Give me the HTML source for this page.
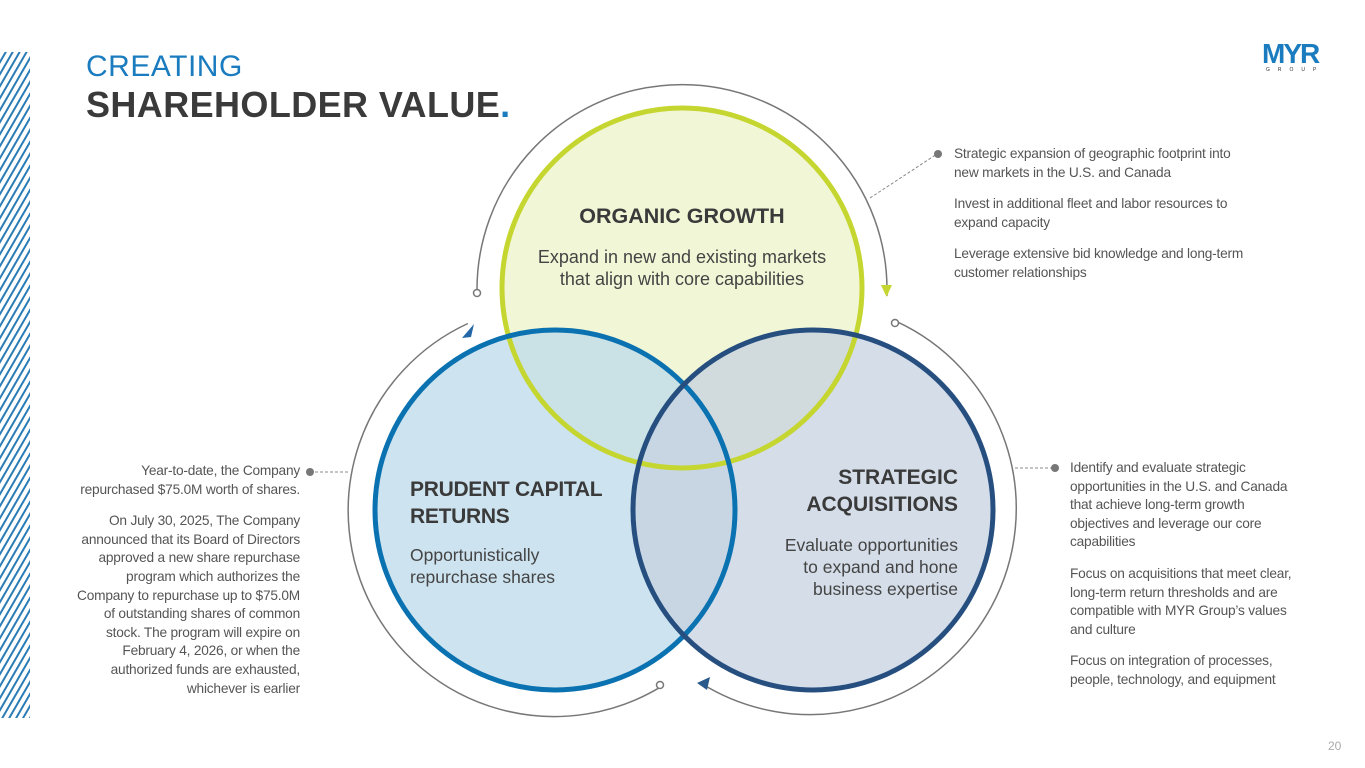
<!DOCTYPE html>
<html><head><meta charset="utf-8"><style>
body{margin:0;width:1365px;height:768px;background:#fff;overflow:hidden;position:relative;font-family:"Liberation Sans",sans-serif}
.t{position:absolute;font-size:13.7px;line-height:18.6px;color:#555;letter-spacing:-0.2px}
.t p{margin:0 0 13px 0}
</style></head><body>
<svg width="1365" height="768" style="position:absolute;left:0;top:0">
<defs>
<pattern id="st" width="6" height="6" patternUnits="userSpaceOnUse" patternTransform="rotate(30)">
<rect width="6" height="6" fill="#fff"/><rect width="2" height="6" fill="#2b7cb5"/></pattern>
</defs>
<rect x="0" y="52" width="30" height="666" fill="url(#st)"/>
<path d="M477.1,296 A205,205 0 1 1 886.9,296" fill="none" stroke="#777" stroke-width="1.5"/>
<circle cx="477" cy="293" r="3.5" fill="#fff" stroke="#777" stroke-width="1.5"/>
<path d="M881,285 L892,285 L886.5,297z" fill="#c5d630"/>
<path d="M467.9,323.5 A206,206 0 1 0 661,686.7" fill="none" stroke="#777" stroke-width="1.5"/>
<circle cx="660" cy="685" r="3.5" fill="#fff" stroke="#777" stroke-width="1.5"/>
<path d="M462,338 L474,324 L471,337z" fill="#2367a8"/>
<path d="M895.8,321.2 A206,206 0 1 1 701.1,683.3" fill="none" stroke="#777" stroke-width="1.5"/>
<circle cx="895" cy="323" r="3.5" fill="#fff" stroke="#777" stroke-width="1.5"/>
<path d="M697,683 L710,677 L707,690z" fill="#2a5a8c"/>
<circle cx="682" cy="288" r="180" fill="#eef5cf" fill-opacity="0.85"/>
<circle cx="555" cy="510" r="180" fill="#bcd9ea" fill-opacity="0.75"/>
<circle cx="813" cy="510" r="180" fill="#c5d2e0" fill-opacity="0.75"/>
<circle cx="682" cy="288" r="180" fill="none" stroke="#c5d630" stroke-width="5"/>
<circle cx="555" cy="510" r="180" fill="none" stroke="#0a72b0" stroke-width="5"/>
<circle cx="813" cy="510" r="180" fill="none" stroke="#264f80" stroke-width="5"/>
<line x1="870" y1="198" x2="937" y2="154" stroke="#888" stroke-dasharray="3,2"/>
<circle cx="938" cy="154" r="4" fill="#777"/>
<line x1="310" y1="472" x2="350" y2="472" stroke="#888" stroke-dasharray="3,2"/>
<circle cx="310" cy="472" r="4" fill="#777"/>
<line x1="1015" y1="468" x2="1054" y2="468" stroke="#888" stroke-dasharray="3,2"/>
<circle cx="1055" cy="468" r="4" fill="#777"/>
</svg>
<div style="position:absolute;left:86px;top:50px;font-size:30px;color:#1a7cbf;letter-spacing:0.5px">CREATING</div>
<div style="position:absolute;left:86px;top:84px;font-size:36px;font-weight:bold;color:#3a3a3a;letter-spacing:0.4px">SHAREHOLDER VALUE<span style="color:#1a7cbf">.</span></div>
<div style="position:absolute;left:1262px;top:38px;font-size:28px;font-weight:bold;color:#1a7cbf;letter-spacing:-2px">MYR</div>
<div style="position:absolute;left:1266px;top:67px;font-size:5px;color:#333;letter-spacing:8px">GROUP</div>
<div style="position:absolute;left:522px;top:204px;width:320px;text-align:center;color:#3a3a3a;font-size:21.5px;font-weight:bold">ORGANIC GROWTH</div>
<div style="position:absolute;left:512px;top:246px;width:340px;text-align:center;color:#444;font-size:18px;line-height:22px">Expand in new and existing markets<br>that align with core capabilities</div>
<div style="position:absolute;left:410px;top:476px;color:#3a3a3a;font-size:21px;font-weight:bold;line-height:27px;letter-spacing:-0.3px">PRUDENT CAPITAL<br>RETURNS</div>
<div style="position:absolute;left:410px;top:544px;color:#444;font-size:17.5px;line-height:22px">Opportunistically<br>repurchase shares</div>
<div style="position:absolute;left:738px;top:464px;width:220px;text-align:right;color:#3a3a3a;font-size:21px;font-weight:bold;line-height:27px">STRATEGIC<br>ACQUISITIONS</div>
<div style="position:absolute;left:718px;top:534px;width:240px;text-align:right;color:#444;font-size:17.5px;line-height:22px">Evaluate opportunities<br>to expand and hone<br>business expertise</div>
<div class="t" style="left:954px;top:145px;width:340px">
<p>Strategic expansion of geographic footprint into<br>new markets in the U.S. and Canada</p>
<p>Invest in additional fleet and labor resources to<br>expand capacity</p>
<p>Leverage extensive bid knowledge and long-term<br>customer relationships</p></div>
<div class="t" style="left:20px;top:462px;width:280px;text-align:right">
<p>Year-to-date, the Company<br>repurchased $75.0M worth of shares.</p>
<p>On July 30, 2025, The Company<br>announced that its Board of Directors<br>approved a new share repurchase<br>program which authorizes the<br>Company to repurchase up to $75.0M<br>of outstanding shares of common<br>stock.  The program will expire on<br>February 4, 2026, or when the<br>authorized funds are exhausted,<br>whichever is earlier</p></div>
<div class="t" style="left:1070px;top:459px;width:270px">
<p>Identify and evaluate strategic<br>opportunities in the U.S. and Canada<br>that achieve long-term growth<br>objectives and leverage our core<br>capabilities</p>
<p>Focus on acquisitions that meet clear,<br>long-term return thresholds and are<br>compatible with MYR Group’s values<br>and culture</p>
<p>Focus on integration of processes,<br>people, technology, and equipment</p></div>
<div style="position:absolute;left:1328px;top:739px;font-size:12px;color:#aaa">20</div>
</body></html>
